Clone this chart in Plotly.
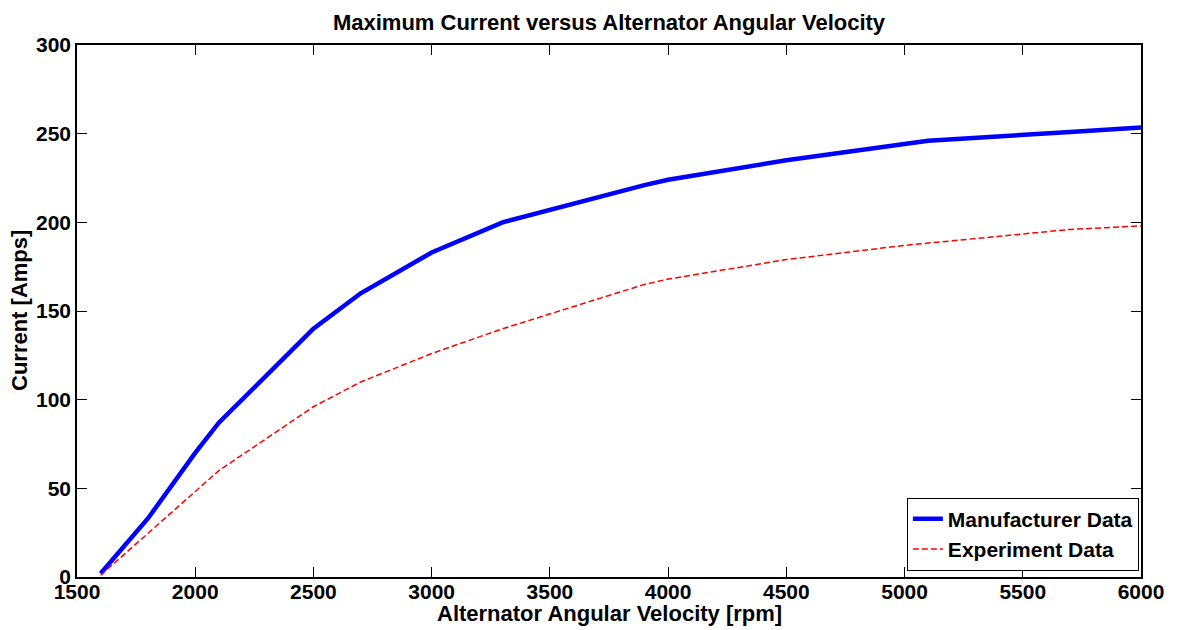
import plotly.graph_objects as go

rpm_manuf = [1600, 1800, 2000, 2100, 2500, 2700, 3000, 3300, 3900, 4000, 4500, 5000, 5100, 5700, 6000]
amps_manuf = [2, 33, 70, 87, 140, 160, 183, 200, 221, 224, 235, 244, 246, 251, 253.5]

rpm_exp = [1600, 2000, 2100, 2500, 2700, 3000, 3300, 3900, 4000, 4500, 5000, 5700, 6000]
amps_exp = [1, 48, 60, 96, 110, 126, 140, 165, 168, 179, 187, 196, 198]

x_ticks = [1500, 2000, 2500, 3000, 3500, 4000, 4500, 5000, 5500, 6000]
y_ticks = [0, 50, 100, 150, 200, 250, 300]

title_text = "Maximum Current versus Alternator Angular Velocity"
x_title = "Alternator Angular Velocity [rpm]"
y_title = "Current [Amps]"

FONT = "Liberation Sans, Arial, sans-serif"

fig = go.Figure()
fig.add_trace(go.Scatter(x=rpm_manuf, y=amps_manuf, mode="lines", name="Manufacturer Data",
                         line=dict(color="#0000ff", width=4.5)))
fig.add_trace(go.Scatter(x=rpm_exp, y=amps_exp, mode="lines", name="Experiment Data",
                         line=dict(color="#ff0000", width=1.5, dash="6px,3px")))

axis_common = dict(showgrid=False, zeroline=False, showline=True, linecolor="black", linewidth=1.5,
                   mirror="ticks", ticks="inside", ticklen=10, tickcolor="black", tickwidth=1,
                   automargin=False,
                   tickfont=dict(family=FONT, size=21, color="black", weight="bold"))

fig.update_layout(
    width=1180, height=630,
    margin=dict(l=69, r=47, t=37, b=61, autoexpand=False),
    paper_bgcolor="white", plot_bgcolor="white",
    title=dict(text="<b>" + title_text + "</b>",
               x=0.5, xanchor="center", y=0.978, yanchor="middle",
               xref="paper", automargin=False,
               font=dict(family=FONT, size=22, color="black")),
    xaxis=dict(range=[1500, 6000], tickvals=x_ticks, ticklabelstandoff=-5, **axis_common),
    yaxis=dict(range=[0, 300], tickvals=y_ticks, **axis_common),
    legend=dict(x=0.998, y=0.012, xanchor="right", yanchor="bottom",
                bordercolor="black", borderwidth=1, bgcolor="white",
                font=dict(family=FONT, size=21, color="black", weight="bold"),
                tracegroupgap=0, itemwidth=30),
    showlegend=True,
    annotations=[
        dict(text="<b>" + x_title + "</b>", xref="paper", yref="paper", x=0.5, y=-0.068,
             xanchor="center", yanchor="middle", showarrow=False,
             font=dict(family=FONT, size=22, color="black")),
        dict(text="<b>" + y_title + "</b>", xref="paper", yref="paper", x=-0.0545, y=0.5,
             xanchor="center", yanchor="middle", showarrow=False, textangle=-90,
             font=dict(family=FONT, size=22, color="black")),
    ],
)

fig.write_html("out.html")
